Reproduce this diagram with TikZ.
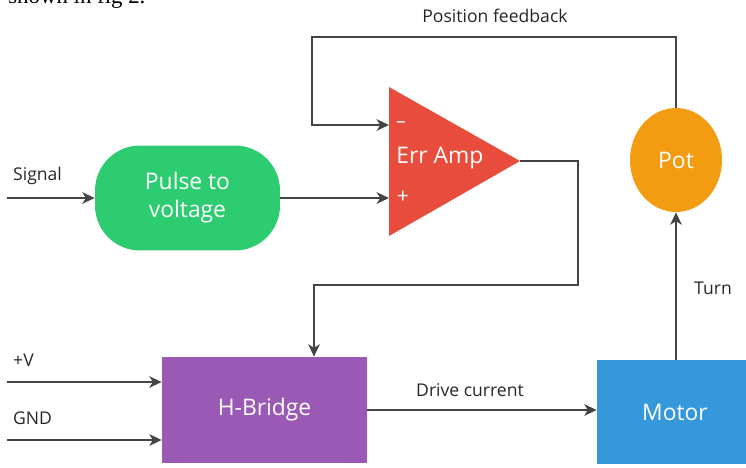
\documentclass[tikz,border=0pt]{standalone}
\usepackage{fontspec}
\setmainfont{Open Sans}
\newfontfamily\bodyserif{Liberation Serif}
\usetikzlibrary{arrows.meta,shapes.geometric}

\definecolor{pulsegreen}{HTML}{2ECC71}
\definecolor{ampred}{HTML}{E74C3C}
\definecolor{potorange}{HTML}{F39C12}
\definecolor{bridgepurple}{HTML}{9B59B6}
\definecolor{motorblue}{HTML}{3498DB}
\definecolor{wire}{HTML}{444444}

\tikzset{
  wireline/.style={draw=wire,line width=1.3pt},
  arr/.style={wireline,-{Stealth[length=7pt,width=6.5pt,inset=2pt]}},
  blocktext/.style={text=white,font=\fontsize{13}{16}\selectfont,align=center},
  lbl/.style={text=black!85,font=\fontsize{10}{12}\selectfont}
}

\begin{document}
\begin{tikzpicture}[x=0.02cm,y=-0.02cm]
    \useasboundingbox (0,0) rectangle (746,467);
    % text of the page above the figure
    \node[anchor=base west,inner sep=0pt,font=\bodyserif\fontsize{13}{15}\selectfont] (caption) at (8,3.5) {shown in fig 2.};

    % blocks
    \node[blocktext,fill=pulsegreen,rounded corners=0.9cm,minimum width=3.7cm,minimum height=2.1cm] (pulse) at (187.5,198) {Pulse to\\voltage};
    \node[blocktext,fill=potorange,ellipse,minimum width=1.84cm,minimum height=2.08cm,inner sep=0pt] (pot) at (676,160) {Pot};
    \node[blocktext,fill=bridgepurple,minimum width=4.1cm,minimum height=2.12cm] (hbridge) at (264.5,410) {H-Bridge};
    \node[blocktext,fill=motorblue,minimum width=3.12cm,minimum height=2.08cm] (motor) at (675,412) {Motor};

    % error amplifier
    \coordinate (minus) at (389,125);
    \coordinate (plus) at (389,198);
    \coordinate (out) at (520,161);
    \fill[ampred] (389,87) -- (out) -- (389,236) -- cycle;
    \node[blocktext,anchor=west,inner sep=0pt] (erramp) at (396,158) {Err Amp};
    \node[text=white,font=\fontsize{11}{13}\selectfont,inner sep=0pt] (minussign) at (401,125) {–};
    \node[text=white,font=\fontsize{12}{14}\selectfont,inner sep=0pt] (plussign) at (403,197) {+};

    % bends of the connectors
    \coordinate (sig) at (7,198);
    \coordinate (fbk) at (312,37);
    \coordinate (brk) at (578,285);
    \coordinate (hbin) at (314,285);
    \coordinate (vin) at (7,382);
    \coordinate (gin) at (7,440);

    % connectors
    \draw[arr] (sig) -- (pulse.west);
    \draw[arr] (pulse.east) -- (plus);
    \draw[arr] (pot.north) |- (fbk) |- (minus);
    \draw[arr] (out) -| (brk) -- (hbin) -- (hbin |- hbridge.north);
    \draw[arr] (vin) -- (vin -| hbridge.west);
    \draw[arr] (gin) -- (gin -| hbridge.west);
    \draw[arr] (hbridge.east) -- (hbridge.east -| motor.west);
    \draw[arr] (motor.north -| pot.south) -- (pot.south);

    % labels
    \node[lbl,anchor=west] (signal) at (7,176) {Signal};
    \node[lbl] (feedback) at (495,16) {Position feedback};
    \node[lbl,anchor=west] (plusv) at (7,360) {+V};
    \node[lbl,anchor=west] (gnd) at (7,418) {GND};
    \node[lbl] (drive) at (470,390) {Drive current};
    \node[lbl,anchor=west] (turn) at (688,288) {Turn};
\end{tikzpicture}
\end{document}
